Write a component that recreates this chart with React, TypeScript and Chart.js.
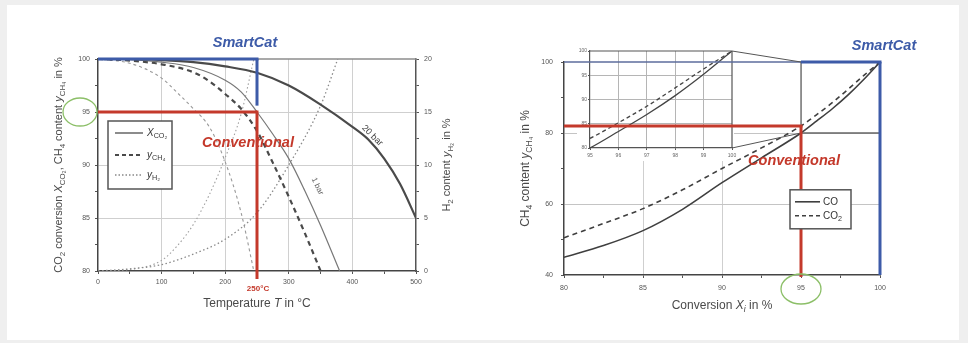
import React, { useEffect, useRef } from 'react';
import { Chart, registerables } from 'chart.js';

Chart.register(...registerables);

const FONT = '"Liberation Sans", Arial, sans-serif';
const RED = '#c4392b';
const BLUE = '#3d5ba8';
const GREEN = '#8cbf68';

// ---------- Left panel: equilibrium vs temperature (T in °C) ----------
const LEFT_X_LABELS = [0, 100, 200, 300, 400, 500];
const LEFT_Y_LABELS = [80, 85, 90, 95, 100];
const RIGHT_Y_LABELS = [0, 5, 10, 15, 20];

// 20 bar
const T_XCO2_20 = [0, 50, 100, 150, 200, 250, 300, 350, 400, 425, 450, 475, 500];
const XCO2_20 = [100, 100, 99.9, 99.7, 99.3, 98.7, 97.5, 95.7, 93.6, 92.4, 90.6, 88.2, 85.0];
const T_YCH4_20 = [0, 50, 100, 150, 175, 200, 225, 250, 275, 300, 325, 350];
const YCH4_20 = [100, 99.85, 99.5, 98.75, 97.9, 96.7, 95.3, 93.2, 90.2, 87.0, 83.6, 80.0];
const T_YH2_20 = [0, 50, 100, 150, 200, 250, 300, 350, 377];
const YH2_20 = [0, 0.2, 0.6, 1.6, 3.0, 5.5, 10.0, 15.6, 20];
// 1 bar
const T_XCO2_1 = [0, 50, 100, 150, 200, 225, 250, 275, 300, 325, 350, 380];
const XCO2_1 = [100, 99.95, 99.7, 99.2, 98.0, 96.9, 95.0, 92.9, 90.6, 87.6, 84.3, 80.0];
const T_YCH4_1 = [0, 50, 100, 125, 150, 175, 200, 225, 245];
const YCH4_1 = [100, 99.6, 98.2, 96.8, 95.3, 93.6, 90.3, 85.5, 80.0];
const T_YH2_1 = [0, 50, 100, 125, 150, 175, 200, 225, 245];
const YH2_1 = [0, 0.15, 1.0, 2.4, 4.4, 7.2, 10.7, 14.8, 20];

const LEFT_MARK_T = 250;
const LEFT_MARK_Y = 95;
const LEFT_SMART_Y = 100;
const LEFT_SMART_END = 95.6;
const LABEL_20BAR_T = 425;
const LABEL_1BAR = { x: 345, y: 88 };

// ---------- Right panel: CH4 content vs conversion ----------
const CONV_X_LABELS = [80, 85, 90, 95, 100];
const CH4_Y_LABELS = [40, 60, 80, 100];
const CONV_X = [80, 82.5, 85, 87.5, 90, 92.5, 95, 96, 97, 98, 99, 100];
const CH4_CO = [45, 48.3, 52.5, 58.5, 66, 73, 80, 83.4, 86.9, 90.8, 95.2, 100];
const CH4_CO2 = [50.5, 54.5, 58.7, 64, 70, 75.8, 82, 85.2, 88.6, 92.4, 96.3, 100];
const RIGHT_MARK_X = 95;
const RIGHT_MARK_Y = 82;
const ZOOM_X = [95, 100];
const ZOOM_Y = [80, 100];
const INSET_X_LABELS = [95, 96, 97, 98, 99, 100];
const INSET_Y_LABELS = [80, 85, 90, 95, 100];

type Seg = { t: string; sub?: boolean; it?: boolean };

function rich(ctx: any, segs: Seg[], x: number, y: number, size: number, color: string, opts: any = {}) {
  const align = opts.align || 'center';
  const weight = opts.weight || 'normal';
  const allIt = !!opts.it;
  const f = (s: Seg) =>
    `${s.it || allIt ? 'italic ' : ''}${weight} ${s.sub ? (size * 0.72).toFixed(1) : size}px ${FONT}`;
  ctx.save();
  ctx.translate(x, y);
  if (opts.rot) ctx.rotate(opts.rot);
  let total = 0;
  const ws = segs.map((s) => {
    ctx.font = f(s);
    const w = ctx.measureText(s.t).width;
    total += w;
    return w;
  });
  let cx = align === 'center' ? -total / 2 : align === 'right' ? -total : 0;
  ctx.fillStyle = color;
  ctx.textBaseline = 'middle';
  ctx.textAlign = 'left';
  segs.forEach((s, i) => {
    ctx.font = f(s);
    ctx.fillText(s.t, cx, s.sub ? size * 0.32 : 0);
    cx += ws[i];
  });
  ctx.restore();
}

function seg(ctx: any, x1: number, y1: number, x2: number, y2: number, color: string, w: number, dash: number[] = []) {
  ctx.save();
  ctx.beginPath();
  ctx.strokeStyle = color;
  ctx.lineWidth = w;
  ctx.setLineDash(dash);
  ctx.moveTo(x1, y1);
  ctx.lineTo(x2, y2);
  ctx.stroke();
  ctx.restore();
}

function ellipse(ctx: any, cx: number, cy: number, rx: number, ry: number, color: string, w: number) {
  ctx.save();
  ctx.beginPath();
  ctx.strokeStyle = color;
  ctx.lineWidth = w;
  ctx.ellipse(cx, cy, rx, ry, 0, 0, Math.PI * 2);
  ctx.stroke();
  ctx.restore();
}

function box(ctx: any, x: number, y: number, w: number, h: number) {
  ctx.save();
  ctx.fillStyle = '#fff';
  ctx.fillRect(x, y, w, h);
  ctx.strokeStyle = '#555';
  ctx.lineWidth = 1.5;
  ctx.strokeRect(x, y, w, h);
  ctx.restore();
}

const ds = (xs: number[], ys: number[], color: string, width: number, dash: number[], axis = 'y') => ({
  data: xs.map((x, i) => ({ x, y: ys[i] })),
  borderColor: color,
  borderWidth: width,
  borderDash: dash,
  showLine: true,
  pointRadius: 0,
  fill: false,
  cubicInterpolationMode: 'monotone',
  yAxisID: axis,
});

const tickFont = { size: 7, family: FONT };
const transparent = 'rgba(0,0,0,0)';
const TITLE_COLOR = '#4a4a4a';

function leftConfig(): any {
  const plugin = {
    id: 'leftDecor',
    afterDatasetsDraw(chart: any) {
      const { ctx, chartArea: a, scales } = chart;
      const x = scales.x;
      const y = scales.y;
      seg(ctx, a.left, a.top, a.right, a.top, '#8c8c8c', 1.5);
      const px = x.getPixelForValue(LEFT_MARK_T);
      const py = y.getPixelForValue(LEFT_MARK_Y);
      const pt = y.getPixelForValue(LEFT_SMART_Y);
      // Conventional (red)
      seg(ctx, a.left, py, px, py, RED, 3);
      seg(ctx, px, py - 1.5, px, a.bottom + 8, RED, 3);
      // SmartCat (blue)
      seg(ctx, a.left, pt, px + 1.5, pt, BLUE, 3);
      seg(ctx, px, pt, px, y.getPixelForValue(LEFT_SMART_END), BLUE, 3);
      rich(ctx, [{ t: 'SmartCat' }], px - 12, pt - 16, 14.5, BLUE, { weight: 'bold', it: true });
      rich(ctx, [{ t: 'Conventional' }], px - 9, py + 31, 14.5, RED, { weight: 'bold', it: true });
      rich(ctx, [{ t: `${LEFT_MARK_T}°C` }], px + 1, a.bottom + 18, 8, RED, { weight: 'bold' });
      // curve labels
      const lx = x.getPixelForValue(LABEL_20BAR_T) + 4;
      const ly = y.getPixelForValue(92.4) - 4;
      rich(ctx, [{ t: '20 bar' }], lx, ly, 9, '#444', { rot: (45 * Math.PI) / 180 });
      rich(ctx, [{ t: '1 bar' }], x.getPixelForValue(LABEL_1BAR.x), y.getPixelForValue(LABEL_1BAR.y), 8, '#666', {
        rot: (64 * Math.PI) / 180,
      });
      // green ellipse around 95
      ellipse(ctx, a.left - 18, py, 17, 14, GREEN, 1.3);
      // legend box
      const bx = a.left + 10;
      const by = a.top + 62;
      box(ctx, bx, by, 64, 68);
      const rows = [by + 12, by + 34, by + 54];
      seg(ctx, bx + 7, rows[0], bx + 35, rows[0], '#666', 1.5);
      seg(ctx, bx + 7, rows[1], bx + 35, rows[1], '#4a4a4a', 2.2, [4, 3]);
      seg(ctx, bx + 7, rows[2], bx + 35, rows[2], '#888', 1.3, [1.5, 2]);
      rich(ctx, [{ t: 'X', it: true }, { t: 'CO₂', sub: true }], bx + 39, rows[0], 10, '#333', { align: 'left' });
      rich(ctx, [{ t: 'y', it: true }, { t: 'CH₄', sub: true }], bx + 39, rows[1], 10, '#333', { align: 'left' });
      rich(ctx, [{ t: 'y', it: true }, { t: 'H₂', sub: true }], bx + 39, rows[2], 10, '#333', { align: 'left' });
      // axis titles
      rich(
        ctx,
        [
          { t: 'CO' },
          { t: '2', sub: true },
          { t: ' conversion ' },
          { t: 'X', it: true },
          { t: 'CO₂', sub: true },
          { t: ', CH' },
          { t: '4', sub: true },
          { t: ' content ' },
          { t: 'y', it: true },
          { t: 'CH₄', sub: true },
          { t: ' in %' },
        ],
        59,
        (a.top + a.bottom) / 2,
        11,
        TITLE_COLOR,
        { rot: -Math.PI / 2 }
      );
      rich(
        ctx,
        [{ t: 'H' }, { t: '2', sub: true }, { t: ' content ' }, { t: 'y', it: true }, { t: 'H₂', sub: true }, { t: ' in %' }],
        a.right + 31,
        (a.top + a.bottom) / 2,
        11,
        TITLE_COLOR,
        { rot: -Math.PI / 2 }
      );
      rich(ctx, [{ t: 'Temperature ' }, { t: 'T', it: true }, { t: ' in °C' }], (a.left + a.right) / 2, a.bottom + 33, 12, TITLE_COLOR);
    },
  };
  return {
    type: 'scatter',
    data: {
      datasets: [
        ds(T_XCO2_20, XCO2_20, '#4a4a4a', 2.2, []),
        ds(T_YCH4_20, YCH4_20, '#4a4a4a', 2.2, [5, 4]),
        ds(T_YH2_20, YH2_20, '#8a8a8a', 1.3, [1.5, 2.5], 'y2'),
        ds(T_XCO2_1, XCO2_1, '#777', 1.2, []),
        ds(T_YCH4_1, YCH4_1, '#999', 1.1, [3, 3]),
        ds(T_YH2_1, YH2_1, '#a0a0a0', 1.1, [1.5, 2.5], 'y2'),
      ],
    },
    options: {
      responsive: false,
      animation: false,
      events: [],
      layout: { padding: { left: 0, top: 59, right: 0, bottom: 0 } },
      plugins: { legend: { display: false }, tooltip: { enabled: false } },
      scales: {
        x: {
          type: 'linear',
          min: 0,
          max: 500,
          afterFit: (s: any) => {
            s.height = 72;
          },
          ticks: {
            stepSize: 50,
            autoSkip: false,
            maxRotation: 0,
            font: tickFont,
            color: '#555',
            padding: 4,
            callback: (v: number) => (LEFT_X_LABELS.includes(v) ? String(v) : ''),
          },
          grid: {
            color: (c: any) =>
              c.tick && c.tick.value % 100 === 0 && c.tick.value > 0 && c.tick.value < 500 ? '#d0d0d0' : transparent,
            tickColor: '#555',
            tickLength: 3,
          },
          border: { color: '#444', width: 1.5 },
        },
        y: {
          type: 'linear',
          position: 'left',
          min: 80,
          max: 100,
          afterFit: (s: any) => {
            s.width = 98;
          },
          ticks: {
            stepSize: 2.5,
            autoSkip: false,
            font: tickFont,
            color: '#555',
            padding: 5,
            callback: (v: number) => (LEFT_Y_LABELS.includes(v) ? String(v) : ''),
          },
          grid: {
            color: (c: any) =>
              c.tick && c.tick.value % 5 === 0 && c.tick.value > 80 && c.tick.value < 100 ? '#cfcfcf' : transparent,
            tickColor: '#555',
            tickLength: 3,
          },
          border: { color: '#444', width: 1.5 },
        },
        y2: {
          type: 'linear',
          position: 'right',
          min: 0,
          max: 20,
          afterFit: (s: any) => {
            s.width = 68;
          },
          ticks: {
            stepSize: 2.5,
            autoSkip: false,
            font: tickFont,
            color: '#555',
            padding: 5,
            callback: (v: number) => (RIGHT_Y_LABELS.includes(v) ? String(v) : ''),
          },
          grid: { drawOnChartArea: false, tickColor: '#555', tickLength: 3 },
          border: { color: '#555', width: 1.5 },
        },
      },
    },
    plugins: [plugin],
  };
}

function rightConfig(): any {
  const plugin = {
    id: 'rightDecor',
    afterDatasetsDraw(chart: any) {
      const { ctx, chartArea: a, scales } = chart;
      const x = scales.x;
      const y = scales.y;
      // zoom window rectangle
      seg(ctx, x.getPixelForValue(ZOOM_X[0]), y.getPixelForValue(ZOOM_Y[0]), x.getPixelForValue(ZOOM_X[0]), y.getPixelForValue(ZOOM_Y[1]), '#666', 1.3);
      seg(ctx, x.getPixelForValue(ZOOM_X[0]), y.getPixelForValue(ZOOM_Y[0]), x.getPixelForValue(ZOOM_X[1]), y.getPixelForValue(ZOOM_Y[0]), '#666', 1.3);
      rich(
        ctx,
        [{ t: 'CH' }, { t: '4', sub: true }, { t: ' content ' }, { t: 'y', it: true }, { t: 'CH₄', sub: true }, { t: ' in %' }],
        42,
        (a.top + a.bottom) / 2,
        12,
        TITLE_COLOR,
        { rot: -Math.PI / 2 }
      );
      rich(
        ctx,
        [{ t: 'Conversion ' }, { t: 'X', it: true }, { t: 'i', sub: true, it: true }, { t: ' in %' }],
        (a.left + a.right) / 2,
        a.bottom + 31,
        12,
        TITLE_COLOR
      );
    },
  };
  return {
    type: 'scatter',
    data: {
      datasets: [ds(CONV_X, CH4_CO, '#3f3f3f', 1.6, []), ds(CONV_X, CH4_CO2, '#3f3f3f', 1.6, [5, 4])],
    },
    options: {
      responsive: false,
      animation: false,
      events: [],
      layout: { padding: { left: 0, top: 62, right: 88, bottom: 0 } },
      plugins: { legend: { display: false }, tooltip: { enabled: false } },
      scales: {
        x: {
          type: 'linear',
          min: 80,
          max: 100,
          afterFit: (s: any) => {
            s.height = 68;
          },
          ticks: {
            stepSize: 2.5,
            autoSkip: false,
            maxRotation: 0,
            font: tickFont,
            color: '#555',
            padding: 6,
            callback: (v: number) => (CONV_X_LABELS.includes(v) ? String(v) : ''),
          },
          grid: {
            color: (c: any) =>
              c.tick && c.tick.value % 5 === 0 && c.tick.value > 80 && c.tick.value < 100 ? '#cfcfcf' : transparent,
            tickColor: '#555',
            tickLength: 3,
          },
          border: { color: '#444', width: 1.5 },
        },
        y: {
          type: 'linear',
          min: 40,
          max: 100,
          afterFit: (s: any) => {
            s.width = 80;
          },
          ticks: {
            stepSize: 10,
            autoSkip: false,
            font: tickFont,
            color: '#555',
            padding: 8,
            callback: (v: number) => (CH4_Y_LABELS.includes(v) ? String(v) : ''),
          },
          grid: {
            color: (c: any) => (c.tick && (c.tick.value === 60 || c.tick.value === 80) ? '#c4c4c4' : transparent),
            tickColor: '#555',
            tickLength: 3,
          },
          border: { color: '#444', width: 1.5 },
        },
      },
    },
    plugins: [plugin],
  };
}

function insetConfig(main: any): any {
  const plugin = {
    id: 'insetDecor',
    beforeDraw(chart: any) {
      const { ctx, chartArea: a } = chart;
      ctx.save();
      ctx.fillStyle = '#fff';
      ctx.fillRect(a.left - 13, a.top - 4, a.right - a.left + 15, a.bottom - a.top + 17);
      ctx.restore();
    },
    afterDraw(chart: any) {
      const { ctx, chartArea: a } = chart;
      const ma = main.chartArea;
      const mx = main.scales.x;
      const my = main.scales.y;
      // inset frame (top & right)
      seg(ctx, a.left, a.top, a.right, a.top, '#555', 1.2);
      seg(ctx, a.right, a.top, a.right, a.bottom, '#555', 1.2);
      // main top border
      seg(ctx, ma.left, ma.top, ma.right, ma.top, '#5d6c9c', 1.5);
      // connectors to zoom window
      seg(ctx, a.right, a.top, mx.getPixelForValue(ZOOM_X[0]), my.getPixelForValue(ZOOM_Y[1]), '#555', 1);
      seg(ctx, a.right, a.bottom, mx.getPixelForValue(ZOOM_X[0]), my.getPixelForValue(ZOOM_Y[0]), '#555', 1);
      // Conventional (red)
      const px = mx.getPixelForValue(RIGHT_MARK_X);
      const py = my.getPixelForValue(RIGHT_MARK_Y);
      seg(ctx, ma.left, py, px + 1.5, py, RED, 3);
      seg(ctx, px, py, px, ma.bottom + 2, RED, 3);
      // SmartCat (blue)
      seg(ctx, px, ma.top, ma.right + 1.5, ma.top, BLUE, 3);
      seg(ctx, ma.right, ma.top, ma.right, ma.bottom, BLUE, 3);
      rich(ctx, [{ t: 'SmartCat' }], ma.right + 4, ma.top - 16, 14.5, BLUE, { weight: 'bold', it: true });
      rich(ctx, [{ t: 'Conventional' }], px - 7, py + 35, 14.5, RED, { weight: 'bold', it: true });
      // legend
      const bx = px - 11;
      const by = my.getPixelForValue(64);
      box(ctx, bx, by, 61, 39);
      seg(ctx, bx + 5, by + 12, bx + 30, by + 12, '#3f3f3f', 1.6);
      seg(ctx, bx + 5, by + 26, bx + 30, by + 26, '#3f3f3f', 1.6, [4, 3]);
      rich(ctx, [{ t: 'CO' }], bx + 33, by + 12, 10, '#333', { align: 'left' });
      rich(ctx, [{ t: 'CO' }, { t: '2', sub: true }], bx + 33, by + 26, 10, '#333', { align: 'left' });
      // green ellipse around 95
      ellipse(ctx, px, ma.bottom + 14, 20, 15, GREEN, 1.3);
    },
  };
  const small = { size: 5, family: FONT };
  return {
    type: 'scatter',
    data: {
      datasets: [ds(CONV_X, CH4_CO, '#444', 1.3, []), ds(CONV_X, CH4_CO2, '#444', 1.3, [4, 3])],
    },
    options: {
      responsive: false,
      animation: false,
      events: [],
      layout: { padding: { left: 94, top: 51, right: 236, bottom: 183 } },
      plugins: { legend: { display: false }, tooltip: { enabled: false } },
      scales: {
        x: {
          type: 'linear',
          min: 95,
          max: 100,
          afterFit: (s: any) => {
            s.height = 12;
          },
          ticks: {
            stepSize: 1,
            autoSkip: false,
            maxRotation: 0,
            font: small,
            color: '#666',
            padding: 3,
            callback: (v: number) => (INSET_X_LABELS.includes(v) ? String(v) : ''),
          },
          grid: {
            color: (c: any) => (c.tick && c.tick.value > 95 && c.tick.value < 100 ? '#b5b5b5' : transparent),
            tickColor: '#555',
            tickLength: 2,
          },
          border: { color: '#555', width: 1.2 },
        },
        y: {
          type: 'linear',
          min: 80,
          max: 100,
          afterFit: (s: any) => {
            s.width = 12;
          },
          ticks: {
            stepSize: 5,
            autoSkip: false,
            font: small,
            color: '#666',
            padding: 1,
            callback: (v: number) => (INSET_Y_LABELS.includes(v) ? String(v) : ''),
          },
          grid: {
            color: (c: any) => (c.tick && c.tick.value > 80 && c.tick.value < 100 ? '#b5b5b5' : transparent),
            tickColor: '#555',
            tickLength: 2,
          },
          border: { color: '#555', width: 1.2 },
        },
      },
    },
    plugins: [plugin],
  };
}

export default function App() {
  const leftRef = useRef<HTMLCanvasElement>(null);
  const rightRef = useRef<HTMLCanvasElement>(null);
  const insetRef = useRef<HTMLCanvasElement>(null);

  useEffect(() => {
    const left = new Chart(leftRef.current as HTMLCanvasElement, leftConfig());
    const right = new Chart(rightRef.current as HTMLCanvasElement, rightConfig());
    const inset = new Chart(insetRef.current as HTMLCanvasElement, insetConfig(right));
    return () => {
      inset.destroy();
      right.destroy();
      left.destroy();
    };
  }, []);

  const cv: any = { position: 'absolute', top: 0, width: 484, height: 343, display: 'block' };
  return (
    <div
      style={{
        position: 'fixed',
        left: 0,
        top: 0,
        width: 968,
        height: 343,
        background: '#efefef',
        overflow: 'hidden',
      }}
    >
      <div style={{ position: 'absolute', left: 7, top: 5, width: 952, height: 335, background: '#fff' }} />
      <canvas ref={leftRef} width={484} height={343} style={{ ...cv, left: 0 }} />
      <canvas ref={rightRef} width={484} height={343} style={{ ...cv, left: 484 }} />
      <canvas ref={insetRef} width={484} height={343} style={{ ...cv, left: 484 }} />
    </div>
  );
}
